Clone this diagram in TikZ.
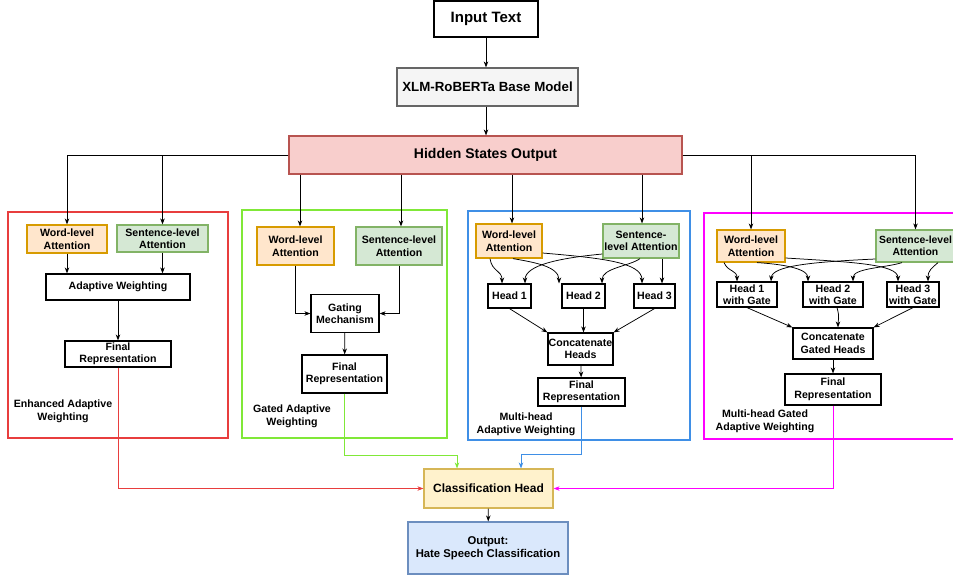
\documentclass[tikz,border=0pt]{standalone}
\usepackage{fontspec}
\setmainfont{Liberation Sans}
\usetikzlibrary{arrows.meta}
\definecolor{wfill}{HTML}{FFE6CC}\definecolor{wdraw}{HTML}{D79B00}
\definecolor{sfill}{HTML}{D5E8D4}\definecolor{sdraw}{HTML}{82B366}
\definecolor{hfill}{HTML}{F8CECC}\definecolor{hdraw}{HTML}{B85450}
\definecolor{xfill}{HTML}{F5F5F5}\definecolor{xdraw}{HTML}{666666}
\definecolor{cfill}{HTML}{FFF2CC}\definecolor{cdraw}{HTML}{D6B656}
\definecolor{ofill}{HTML}{DAE8FC}\definecolor{odraw}{HTML}{6C8EBF}
\definecolor{pred}{HTML}{E83E3E}\definecolor{pgreen}{HTML}{80E838}
\definecolor{pblue}{HTML}{3F8FE6}\definecolor{pmag}{HTML}{FF00FF}
\begin{document}
\begin{tikzpicture}[x=1pt,y=-1pt,
  box/.style={draw=black,line width=1.2pt,fill=white,inner sep=0pt,align=center,
    font=\bfseries\fontsize{10.6}{12.5}\selectfont},
  wbox/.style={box,draw=wdraw,fill=wfill},
  sbox/.style={box,draw=sdraw,fill=sfill},
  panel/.style={line width=2.6pt},
  plabel/.style={align=center,font=\bfseries\fontsize{10.6}{13}\selectfont,inner sep=0pt},
  conn/.style={draw=black,line width=0.75pt,-{Stealth[length=6pt,width=4.5pt]}},
  sz/.style n args={2}{minimum width=#1,minimum height=#2}]
\useasboundingbox (0,0) rectangle (953,576);
\fill[white] (0,0) rectangle (953,576);

% panels
\draw[panel,draw=pred] (8,212) rectangle (228,438);
\draw[panel,draw=pgreen] (242,210) rectangle (447,438);
\draw[panel,draw=pblue] (468,211) rectangle (690,440);
\draw[panel,draw=pmag] (704,213) rectangle (965,439);

% top
\node[box,sz={104pt}{36pt},font=\bfseries\fontsize{15}{17}\selectfont] (it) at (486,19) {Input Text};
\node[box,draw=xdraw,fill=xfill,sz={181pt}{38pt},font=\bfseries\fontsize{13.3}{15}\selectfont] (xlm) at (487.5,87) {XLM-RoBERTa Base Model};
\node[box,draw=hdraw,fill=hfill,sz={393pt}{38pt},font=\bfseries\fontsize{14}{16}\selectfont] (hs) at (485.5,155) {Hidden States Output};
\draw[conn] (it.south -| 486,0) -- (xlm.north -| 486,0);
\draw[conn] (xlm.south -| 486,0) -- (hs.north -| 486,0);

% panel 1
\node[wbox,sz={80pt}{28pt}] (w1) at (67,239) {Word-level\\Attention};
\node[sbox,sz={91pt}{27pt}] (s1) at (162.5,238.5) {Sentence-level\\Attention};
\node[box,sz={144pt}{26pt}] (aw) at (118,287) {Adaptive Weighting};
\node[box,sz={106pt}{26pt}] (f1) at (118,354) {Final\\Representation};
\node[plabel] (l1) at (63,411.5) {Enhanced Adaptive\\Weighting};
\draw[conn] (hs.west) -| (w1.north);
\draw[conn] (hs.west) -| (s1.north);
\draw[conn] (w1.south) -- (w1.south |- aw.north);
\draw[conn] (s1.south) -- (s1.south |- aw.north);
\draw[conn] (aw) -- (f1);

% panel 2
\node[wbox,sz={77pt}{38pt}] (w2) at (295.5,246) {Word-level\\Attention};
\node[sbox,sz={86pt}{38pt}] (s2) at (399,246) {Sentence-level\\Attention};
\node[box,sz={68pt}{38pt}] (gm) at (345,313.5) {Gating\\Mechanism};
\node[box,sz={85pt}{38pt}] (f2) at (344.5,374) {Final\\Representation};
\node[plabel] (l2) at (292,416) {Gated Adaptive\\Weighting};
\draw[conn] (hs.south -| 300,0) -- (w2.north -| 300,0);
\draw[conn] (hs.south -| 401,0) -- (s2.north -| 401,0);
\draw[conn] (w2.south) |- (gm.west);
\draw[conn] (s2.south) |- (gm.east);
\draw[conn] (gm) -- (f2);

% panel 3
\node[wbox,sz={66pt}{34pt}] (w3) at (509,241) {Word-level\\Attention};
\node[sbox,sz={76pt}{34pt}] (s3) at (641,241) {Sentence-\\level Attention};
\node[box,sz={43pt}{24pt}] (h1) at (509.5,296) {Head 1};
\node[box,sz={43pt}{24pt}] (h2) at (583.5,296) {Head 2};
\node[box,sz={41pt}{24pt}] (h3) at (654.5,296) {Head 3};
\node[box,sz={65pt}{32pt}] (cc) at (580.5,349) {Concatenate\\Heads};
\node[box,sz={87pt}{28pt}] (f3) at (581.5,392) {Final\\Representation};
\node[plabel] (l3) at (526,424) {Multi-head\\Adaptive Weighting};
\draw[conn] (hs.south -| 512,0) -- (w3.north -| 512,0);
\draw[conn] (hs.south -| 642,0) -- (s3.north -| 642,0);
\draw[conn] (w3.south -| 490,0) .. controls (492,272) and (502,270) .. (h1.north -| 502,0);
\draw[conn] (w3.south -| 513,0) .. controls (532,262) and (559,266) .. (h2.north -| 559,0);
\draw[conn] (w3.east |- 0,253) .. controls (600,258) and (642,262) .. (h3.north -| 642,0);
\draw[conn] (s3.west |- 0,254) .. controls (560,258) and (525,265) .. (h1.north -| 525,0);
\draw[conn] (s3.south -| 640,0) .. controls (630,266) and (602,268) .. (h2.north -| 602,0);
\draw[conn] (s3.south -| 662,0) -- (h3.north -| 662,0);
\draw[conn] (h1.south) -- (cc.north west);
\draw[conn] (h2.south) -- (h2.south |- cc.north);
\draw[conn] (h3.south) -- (cc.north east);
\draw[conn] (cc) -- (f3);

% panel 4
\node[wbox,sz={68pt}{32pt}] (w4) at (751,246) {Word-level\\Attention};
\node[sbox,sz={79pt}{32pt},font=\bfseries\fontsize{10.4}{12.5}\selectfont] (s4) at (915.5,246) {Sentence-level\\Attention};
\node[box,sz={60pt}{25pt}] (g1) at (747,294.5) {Head 1\\with Gate};
\node[box,sz={60pt}{25pt}] (g2) at (833,294.5) {Head 2\\with Gate};
\node[box,sz={52pt}{25pt}] (g3) at (913,294.5) {Head 3\\with Gate};
\node[box,sz={80pt}{31pt}] (cg) at (833,343.5) {Concatenate\\Gated Heads};
\node[box,sz={96pt}{31pt}] (f4) at (833,389.5) {Final\\Representation};
\node[plabel] (l4) at (765,421) {Multi-head Gated\\Adaptive Weighting};
\draw[conn] (hs.east) -| (s4.north);
\draw[conn] (hs.east) -| (w4.north);
\draw[conn] (w4.south -| 724,0) .. controls (728,272) and (737,270) .. (g1.north -| 737,0);
\draw[conn] (w4.south -| 757,0) .. controls (780,264) and (808,268) .. (g2.north -| 808,0);
\draw[conn] (w4.east |- 0,258) .. controls (850,262) and (898,264) .. (g3.north -| 898,0);
\draw[conn] (s4.west |- 0,259) .. controls (810,262) and (772,266) .. (g1.north -| 771,0);
\draw[conn] (s4.south -| 902,0) .. controls (885,268) and (853,268) .. (g2.north -| 853,0);
\draw[conn] (s4.south -| 938,0) .. controls (932,268) and (928,270) .. (g3.north -| 928,0);
\draw[conn] (g1.south) -- (cg.north west);
\draw[conn] (g2.south -| 837,0) .. controls (840,318) and (838,320) .. (cg.north -| 838,0);
\draw[conn] (g3.south) -- (cg.north east);
\draw[conn] (cg) -- (f4);

% bottom
\node[box,draw=cdraw,fill=cfill,sz={129pt}{39pt},font=\bfseries\fontsize{12}{14}\selectfont] (ch) at (488.5,488.5) {Classification Head};
\node[box,draw=odraw,fill=ofill,sz={160pt}{52pt},font=\bfseries\fontsize{11.3}{13.5}\selectfont] (out) at (488,548) {Output:\\Hate Speech Classification};
\draw[conn] (ch) -- (out);
\draw[conn,draw=pred] (f1.south) |- (ch.west);
\draw[conn,draw=pmag] (f4.south) |- (ch.east);
\draw[conn,draw=pgreen] (f2.south) -- (f2.south |- 0,455) -| ([xshift=-31.5pt]ch.north);
\draw[conn,draw=pblue] (f3.south) -- (f3.south |- 0,454) -| ([xshift=32.5pt]ch.north);
\end{tikzpicture}
\end{document}
